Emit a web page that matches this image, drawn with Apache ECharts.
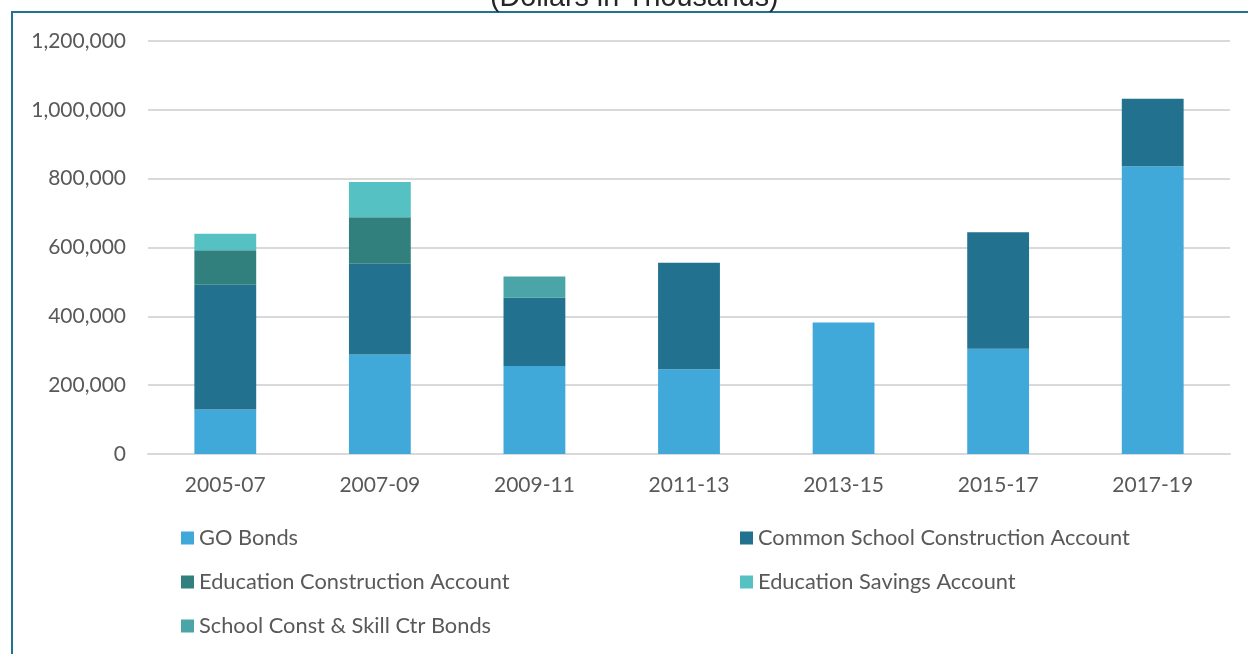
<!DOCTYPE html>
<html>
<head>
<meta charset="utf-8">
<script src="https://cdn.jsdelivr.net/npm/echarts@6/dist/echarts.min.js"></script>
<style>
html,body{margin:0;padding:0;background:#fff;}
#chart{width:1248px;height:654px;}
</style>
</head>
<body>
<div id="chart"></div>
<script>
const categories = ['2005-07','2007-09','2009-11','2011-13','2013-15','2015-17','2017-19'];
const goBonds = [129000, 289000, 256000, 246000, 382000, 306000, 836000];
const commonSchool = [363000, 264000, 199000, 310000, 0, 338000, 196000];
const eduConstruction = [100000, 135000, 0, 0, 0, 0, 0];
const eduSavings = [48000, 102000, 0, 0, 0, 0, 0];
const schoolConstSkill = [0, 0, 61000, 0, 0, 0, 0];
const yTicks = [0, 200000, 400000, 600000, 800000, 1000000, 1200000];

const seriesNames = ['GO Bonds','Common School Construction Account','Education Construction Account','Education Savings Account','School Const & Skill Ctr Bonds'];
const seriesData = [goBonds, commonSchool, eduConstruction, eduSavings, schoolConstSkill];
const colors = ['#41A9D9','#21718F','#31807D','#55C1C3','#4BA5A8'];

const chart = echarts.init(document.getElementById('chart'));
const legendPos = [
  {left:181, top:527},
  {left:740, top:527},
  {left:181, top:571},
  {left:740, top:571},
  {left:181, top:615}
];
const fontFamily = 'Lato, "Open Sans", sans-serif';
chart.setOption({
  animation:false,
  color: colors,
  title:{
    text:'(Dollars in Thousands)',
    left:490,
    top:-16,
    padding:0,
    textStyle:{fontSize:28.7,fontWeight:'normal',color:'#262626',fontFamily:'"Liberation Sans", Arial, sans-serif'}
  },
  graphic:[{
    type:'rect',
    shape:{x:12,y:12,width:1300,height:700},
    style:{fill:'none',stroke:'#1F7393',lineWidth:2},
    silent:true
  }],
  grid:{left:148,right:18,top:41,bottom:200,containLabel:false},
  legend: legendPos.map((p,i)=>({
    data:[seriesNames[i]],
    left:p.left, top:p.top,
    padding:0,
    itemWidth:13, itemHeight:13,
    itemGap:6,
    icon:'rect',
    textStyle:{fontSize:21.8,color:'#595959',fontFamily:fontFamily},
    selectedMode:false
  })),
  xAxis:{
    type:'category',
    data:categories,
    axisLine:{lineStyle:{color:'#D9D9D9',width:2}},
    axisTick:{show:false},
    axisLabel:{fontSize:21,color:'#595959',margin:21,fontFamily:fontFamily}
  },
  yAxis:{
    type:'value',
    min:yTicks[0],
    max:yTicks[yTicks.length-1],
    interval:200000,
    axisLine:{show:false},
    axisTick:{show:false},
    splitLine:{lineStyle:{color:'#D9D9D9',width:2}},
    axisLabel:{fontSize:21,color:'#595959',margin:22,fontFamily:fontFamily,
      formatter:v=>v.toLocaleString('en-US')}
  },
  series: seriesNames.map((n,i)=>({
    name:n,
    type:'bar',
    stack:'total',
    barWidth:'40%',
    data:seriesData[i].map(v=>v===0?null:v),
    itemStyle:{color:colors[i]}
  }))
});
</script>
</body>
</html>
